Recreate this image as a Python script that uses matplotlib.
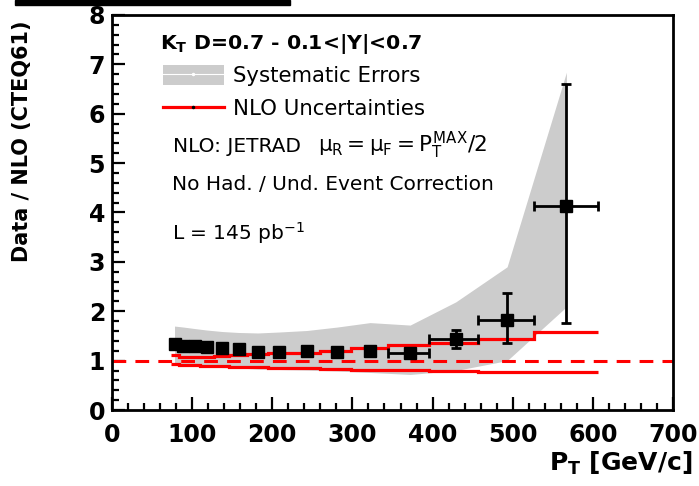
import matplotlib
matplotlib.use("Agg")
import matplotlib.pyplot as plt
import matplotlib.patches as mpatches
from matplotlib.lines import Line2D

plt.rcParams["font.family"] = ["DejaVu Sans"]
plt.rcParams["mathtext.fontset"] = "custom"
plt.rcParams["mathtext.rm"] = "DejaVu Sans"
plt.rcParams["mathtext.it"] = "DejaVu Sans"
plt.rcParams["mathtext.bf"] = "DejaVu Sans:bold"

# measured points (bin centres, Data/NLO)
pt = [78, 89, 103, 118, 137, 158, 182, 209, 243, 281, 322, 372, 429, 493, 567]
ratio = [1.34, 1.30, 1.29, 1.27, 1.25, 1.23, 1.17, 1.17, 1.19, 1.18, 1.19, 1.15, 1.44, 1.82, 4.13]
yerr_lo = [0.03, 0.03, 0.03, 0.03, 0.03, 0.03, 0.03, 0.04, 0.04, 0.05, 0.06, 0.08, 0.19, 0.46, 2.37]
yerr_hi = [0.03, 0.03, 0.03, 0.03, 0.03, 0.03, 0.03, 0.04, 0.04, 0.05, 0.06, 0.08, 0.18, 0.55, 2.47]
xerr_lo = [0, 0, 0, 0, 0, 0, 0, 0, 0, 0, 0, 28, 33, 36, 40]
xerr_hi = [0, 0, 0, 0, 0, 0, 0, 0, 0, 0, 0, 24, 28, 34, 40]

# systematic error band
syst_lo = [0.92, 0.91, 0.90, 0.88, 0.86, 0.85, 0.83, 0.82, 0.81, 0.79, 0.76, 0.72, 0.80, 1.00, 2.09]
syst_hi = [1.70, 1.68, 1.65, 1.62, 1.59, 1.57, 1.56, 1.58, 1.61, 1.68, 1.77, 1.72, 2.19, 2.90, 6.84]

# NLO uncertainty steps
bin_edges = [74, 83, 96, 110, 127, 146, 169, 195, 224, 259, 298, 344, 396, 457, 527, 607]
nlo_hi = [1.12, 1.07, 1.07, 1.08, 1.10, 1.11, 1.13, 1.15, 1.15, 1.19, 1.25, 1.31, 1.36, 1.44, 1.58]
nlo_lo = [0.94, 0.92, 0.91, 0.90, 0.89, 0.88, 0.87, 0.86, 0.85, 0.84, 0.82, 0.81, 0.79, 0.77, 0.77]

BAND_COLOR = "#cccccc"
RED = "#ff0000"

fig = plt.figure(figsize=(6.99, 4.86), dpi=100)
ax = fig.add_axes([112 / 699, 76 / 486, 561 / 699, 395 / 486])

ax.fill_between(pt, syst_lo, syst_hi, color=BAND_COLOR, lw=0, zorder=1)
ax.axhline(1.0, color=RED, lw=2.2, ls=(0, (4.5, 3)), zorder=2)
ax.stairs(nlo_hi, bin_edges, color=RED, lw=2.3, baseline=None, zorder=3)
ax.stairs(nlo_lo, bin_edges, color=RED, lw=2.3, baseline=None, zorder=3)
ax.errorbar(pt, ratio, yerr=[yerr_lo, yerr_hi], xerr=[xerr_lo, xerr_hi],
            fmt="s", color="black", ms=8.5, elinewidth=2, capsize=3.5, capthick=2, zorder=4)

ax.set_xlim(0, 700)
ax.set_ylim(0, 8)
ax.set_xticks(range(0, 701, 100))
ax.set_xticks(range(0, 701, 20), minor=True)
ax.set_yticks(range(0, 9))
ax.set_yticks([i * 0.2 for i in range(41)], minor=True)
ax.tick_params(which="both", direction="in", top=False, right=False, width=1.6)
ax.tick_params(which="major", length=9.5)
ax.tick_params(which="minor", length=5)
ax.tick_params(axis="x", pad=9)
ax.tick_params(axis="y", pad=5)
for lab in ax.get_xticklabels() + ax.get_yticklabels():
    lab.set_fontsize(17)
    lab.set_fontweight("bold")
for sp in ax.spines.values():
    sp.set_linewidth(2)

ax.set_xlabel(r"P$_\mathbf{T}$ [GeV/c]", fontsize=18, fontweight="bold", loc="right")
ax.xaxis.set_label_coords(1.035, -0.10)
ax.set_ylabel("Data / NLO (CTEQ61)", fontsize=15, fontweight="bold", loc="top")
ax.yaxis.set_label_coords(-0.143, 0.987)

ax.text(0.0856, 0.914, r"K$_\mathbf{T}$ D=0.7 - 0.1<|Y|<0.7", transform=ax.transAxes,
        fontsize=14.7, fontweight="bold", va="baseline")

handles = [
    (mpatches.Patch(facecolor=BAND_COLOR, edgecolor="none"),
     Line2D([], [], color="white", lw=0.8, marker="o", ms=1.5)),
    (Line2D([], [], color=RED, lw=2.3),
     Line2D([], [], color="black", lw=0, marker="o", ms=1.5)),
]
ax.legend(handles, ["Systematic Errors", "NLO Uncertainties"], loc="upper left",
          bbox_to_anchor=(0.091, 0.873), frameon=False, fontsize=15.3, borderpad=0,
          borderaxespad=0, handlelength=2.85, handleheight=1.05, handletextpad=0.45,
          labelspacing=0.55)

ax.text(0.109, 0.653, "NLO: JETRAD", transform=ax.transAxes, fontsize=14.5, va="baseline")
ax.text(0.368, 0.653, r"$\mu_R = \mu_F = P_T^{MAX}/2$", transform=ax.transAxes,
        fontsize=15.5, va="baseline")
ax.text(0.107, 0.557, "No Had. / Und. Event Correction", transform=ax.transAxes,
        fontsize=14.5, va="baseline")
ax.text(0.107, 0.430, r"L = 145 pb$^{-1}$", transform=ax.transAxes,
        fontsize=14.5, va="baseline")

# cut-off bar at top edge of the image
fig.patches.append(mpatches.Rectangle((15 / 699, 481 / 486), 275 / 699, 5 / 486,
                                      transform=fig.transFigure, color="black"))

fig.savefig("out.png", dpi=100)
